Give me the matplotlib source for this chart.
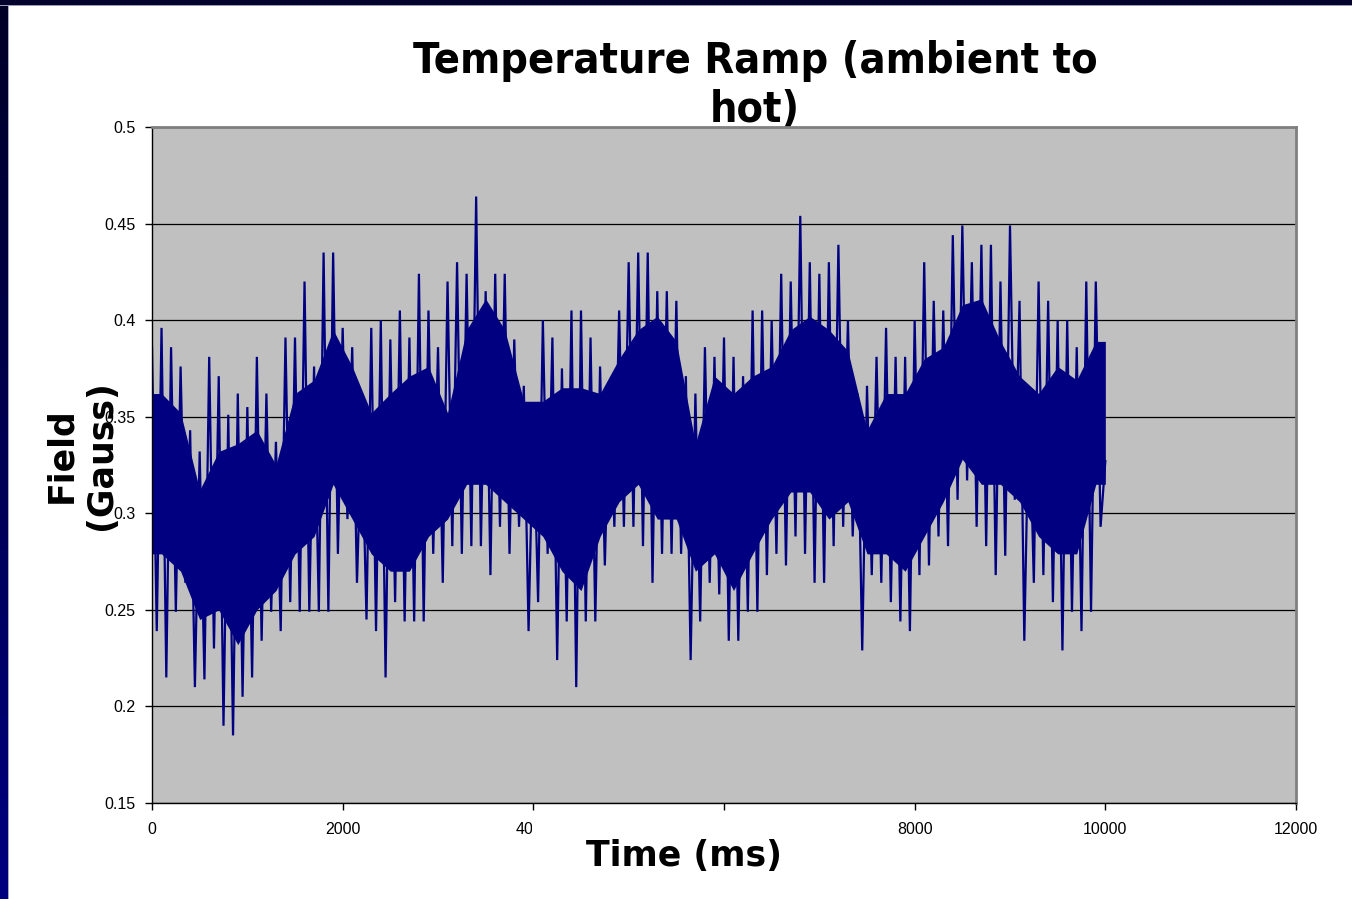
import numpy as np
import matplotlib
matplotlib.use("Agg")
import matplotlib.pyplot as plt
from matplotlib.patches import Rectangle

# Field readings, summarised per 100 ms window: peak and trough of the trace
window_start_ms = list(range(0, 10000, 100))
field_peak = [
    0.386, 0.396, 0.386, 0.376, 0.343, 0.332, 0.381, 0.371, 0.351, 0.362,
    0.355, 0.381, 0.362, 0.337, 0.391, 0.391, 0.420, 0.376, 0.435, 0.435,
    0.396, 0.386, 0.347, 0.396, 0.400, 0.390, 0.405, 0.391, 0.424, 0.405,
    0.386, 0.420, 0.430, 0.424, 0.464, 0.415, 0.424, 0.424, 0.390, 0.366,
    0.351, 0.400, 0.391, 0.375, 0.405, 0.405, 0.391, 0.376, 0.366, 0.405,
    0.430, 0.435, 0.435, 0.415, 0.415, 0.410, 0.371, 0.362, 0.386, 0.381,
    0.391, 0.381, 0.371, 0.405, 0.405, 0.400, 0.424, 0.420, 0.454, 0.430,
    0.424, 0.430, 0.439, 0.400, 0.362, 0.366, 0.381, 0.396, 0.381, 0.381,
    0.400, 0.430, 0.410, 0.405, 0.444, 0.449, 0.430, 0.439, 0.439, 0.420,
    0.449, 0.410, 0.362, 0.420, 0.410, 0.400, 0.400, 0.386, 0.420, 0.420,
]
field_trough = [
    0.239, 0.215, 0.249, 0.264, 0.210, 0.214, 0.230, 0.190, 0.185, 0.205,
    0.215, 0.234, 0.249, 0.239, 0.254, 0.249, 0.249, 0.249, 0.249, 0.279,
    0.297, 0.264, 0.245, 0.239, 0.215, 0.254, 0.244, 0.244, 0.244, 0.279,
    0.264, 0.283, 0.279, 0.283, 0.283, 0.268, 0.293, 0.279, 0.293, 0.239,
    0.254, 0.279, 0.224, 0.244, 0.210, 0.244, 0.244, 0.273, 0.293, 0.293,
    0.293, 0.283, 0.264, 0.279, 0.279, 0.279, 0.224, 0.244, 0.264, 0.258,
    0.234, 0.234, 0.249, 0.249, 0.268, 0.279, 0.273, 0.288, 0.279, 0.264,
    0.264, 0.283, 0.293, 0.288, 0.229, 0.268, 0.264, 0.254, 0.244, 0.239,
    0.268, 0.273, 0.288, 0.283, 0.307, 0.317, 0.293, 0.283, 0.268, 0.278,
    0.307, 0.234, 0.264, 0.268, 0.254, 0.229, 0.249, 0.239, 0.249, 0.293,
]
final_time_ms = 10000
final_field = 0.327

# Dense body of the trace, per 200 ms window: upper and lower edge
body_center_ms = list(range(100, 10000, 200))
body_upper = [
    0.362, 0.352, 0.312, 0.332, 0.336, 0.343, 0.325, 0.362, 0.369, 0.395,
    0.376, 0.352, 0.362, 0.371, 0.376, 0.352, 0.395, 0.411, 0.395, 0.358,
    0.358, 0.365, 0.365, 0.362, 0.380, 0.395, 0.402, 0.389, 0.336, 0.371,
    0.362, 0.371, 0.376, 0.395, 0.402, 0.395, 0.384, 0.343, 0.362, 0.362,
    0.380, 0.386, 0.408, 0.411, 0.389, 0.371, 0.362, 0.376, 0.369, 0.389,
]
body_lower = [
    0.279, 0.270, 0.245, 0.250, 0.232, 0.250, 0.260, 0.279, 0.288, 0.315,
    0.297, 0.279, 0.270, 0.270, 0.288, 0.297, 0.315, 0.315, 0.306, 0.297,
    0.288, 0.270, 0.260, 0.288, 0.306, 0.315, 0.297, 0.297, 0.270, 0.279,
    0.260, 0.279, 0.297, 0.311, 0.311, 0.297, 0.306, 0.279, 0.279, 0.270,
    0.288, 0.306, 0.328, 0.315, 0.315, 0.306, 0.288, 0.279, 0.279, 0.315,
]

x_ticks = [0, 2000, 4000, 6000, 8000, 10000, 12000]
y_ticks = [0.15, 0.2, 0.25, 0.3, 0.35, 0.4, 0.45, 0.5]
y_tick_labels = ["0.15", "0.2", "0.25", "0.3", "0.35", "0.4", "0.45", "0.5"]

# Interleave peak and trough of each window into one continuous trace
t = []
v = []
for start, lo, hi in zip(window_start_ms, field_trough, field_peak):
    t += [start, start + 50]
    v += [hi, lo]
t.append(final_time_ms)
v.append(final_field)

W, H = 1352, 899
fig = plt.figure(figsize=(W / 100, H / 100), dpi=100)
fig.patch.set_facecolor("white")


def fx(px):
    return px / W


def fy(py):
    return 1 - py / H


# slide frame: dark band on top, gradient band on the left
fig.patches.append(Rectangle((0, fy(5)), 1, 5 / H, transform=fig.transFigure,
                             facecolor="#03032e", edgecolor="none", zorder=0))
fig.patches.append(Rectangle((0, fy(6)), 1, 1 / H, transform=fig.transFigure,
                             facecolor="#9a9ab8", edgecolor="none", zorder=0))
band = fig.add_axes([0, 0, fx(8), 1])
grad = np.linspace(0, 1, 256)[:, None]
top_c = np.array([0, 0, 38]) / 255
bot_c = np.array([0, 0, 128]) / 255
img = top_c[None, None, :] * (1 - grad[:, :, None]) + bot_c[None, None, :] * grad[:, :, None]
band.imshow(img, aspect="auto", extent=[0, 1, 0, 1])
band.axis("off")
fig.patches.append(Rectangle((fx(8), 0), 1 / W, fy(5), transform=fig.transFigure,
                             facecolor="#a8a8c8", edgecolor="none", zorder=0))

ax = fig.add_axes([fx(152), fy(803), fx(1296) - fx(152), fy(127) - fy(803)])
ax.set_zorder(2)
ax.set_facecolor("#C0C0C0")
navy = "#000080"
body_t = [0] + body_center_ms + [final_time_ms]
body_hi = [body_upper[0]] + body_upper + [body_upper[-1]]
body_lo = [body_lower[0]] + body_lower + [body_lower[-1]]
ax.fill_between(body_t, body_lo, body_hi, color=navy, linewidth=0)
ax.plot(t, v, color=navy, linewidth=1.6, solid_joinstyle="miter")

ax.set_xlim(0, 12000)
ax.set_ylim(0.15, 0.5)
ax.set_xticks(x_ticks)
ax.set_xticklabels([str(x) for x in x_ticks])
ax.set_yticks(y_ticks)
ax.set_yticklabels(y_tick_labels)
ax.yaxis.grid(True, color="black", linewidth=0.9)
ax.set_axisbelow(True)

for side in ("left", "bottom"):
    ax.spines[side].set_color("black")
    ax.spines[side].set_linewidth(1.0)
for side in ("top", "right"):
    ax.spines[side].set_color("#808080")
    ax.spines[side].set_linewidth(2.0)

ax.tick_params(axis="both", direction="out", length=5, width=1, color="black",
               labelsize=11.5)
ax.tick_params(axis="y", pad=7)
ax.tick_params(axis="x", pad=9)
for lab in ax.get_xticklabels() + ax.get_yticklabels():
    lab.set_fontfamily("Liberation Sans")

# chart title sits behind the plot area
fig.text(fx(755), fy(40), "Temperature Ramp (ambient to\nhot)", ha="center", va="top",
         fontsize=31, fontweight="bold", family="DejaVu Sans", fontstretch="condensed",
         linespacing=1.2, zorder=1)

# axis titles
fig.patches.append(Rectangle((fx(532), fy(884)), (834 - 532) / W, (884 - 814) / H,
                             transform=fig.transFigure, facecolor="white",
                             edgecolor="none", zorder=5))
fig.text(fx(684), fy(866), "Time (ms)", ha="center", va="baseline",
         fontsize=25, fontweight="bold", family="DejaVu Sans", zorder=6)
fig.text(fx(81), fy(455), "Field\n(Gauss)", ha="center", va="center", rotation=90,
         fontsize=25, fontweight="bold", family="DejaVu Sans", multialignment="center",
         linespacing=1.2, zorder=6)

fig.savefig("out.png", dpi=100, facecolor="white")
